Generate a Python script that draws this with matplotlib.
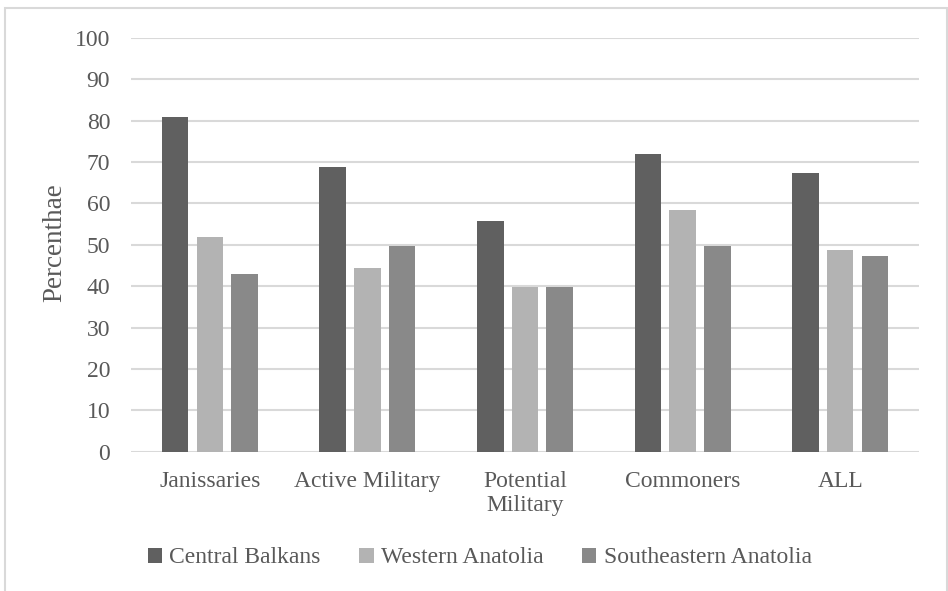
import numpy as np
import matplotlib
matplotlib.use("Agg")
import matplotlib.pyplot as plt
from matplotlib.patches import Rectangle

plt.rcParams['font.family'] = ['Liberation Serif', 'DejaVu Serif']

# Share (%) by group and region
categories = ['Janissaries', 'Active Military', 'Potential\nMilitary', 'Commoners', 'ALL']
central_balkans = [80.9, 68.7, 55.8, 71.9, 67.4]
western_anatolia = [51.9, 44.3, 39.7, 58.4, 48.7]
southeastern_anatolia = [42.9, 49.7, 39.7, 49.7, 47.3]

series = [
    ('Central Balkans', central_balkans, '#606060'),
    ('Western Anatolia', western_anatolia, '#b3b3b3'),
    ('Southeastern Anatolia', southeastern_anatolia, '#898989'),
]

fig = plt.figure(figsize=(9.48, 5.91), dpi=100)
ax = fig.add_axes([0.1382, 0.2357, 0.8312, 0.7005])

x = np.arange(len(categories))
width = 0.168
step = 0.22
for i, (name, vals, color) in enumerate(series):
    ax.bar(x + (i - 1) * step, vals, width, color=color, label=name, zorder=3)

ax.set_xlim(-0.5, len(categories) - 0.5)
ax.set_ylim(0, 100)
ax.set_yticks(range(0, 101, 10))
ax.yaxis.grid(True, color='#d9d9d9', linewidth=1.5, zorder=0)
ax.set_axisbelow(True)
for s in ax.spines.values():
    s.set_visible(False)

ax.set_xticks(x)
ax.set_xticklabels(categories, fontsize=17, color='#595959', linespacing=1.2,
                   va='top')
ax.tick_params(axis='x', length=0, pad=14)
ax.tick_params(axis='y', length=0, pad=15, labelsize=17, labelcolor='#595959')
ax.set_ylabel('Percenthae', fontsize=19.5, color='#595959')
ax.yaxis.set_label_coords(-0.081, 0.505)

fig.legend(loc='center', bbox_to_anchor=(0.506, 0.056), ncol=3, frameon=False,
           fontsize=17, handlelength=0.6, handleheight=0.6, handletextpad=0.3,
           columnspacing=1.65, labelcolor='#595959')

# light frame around the chart, open at the bottom
fig.patches.append(Rectangle((5, -20), 942, 603, transform=None, fill=False,
                             edgecolor='#d9d9d9', linewidth=1.5))

fig.savefig('out.png', dpi=100, facecolor='white')
